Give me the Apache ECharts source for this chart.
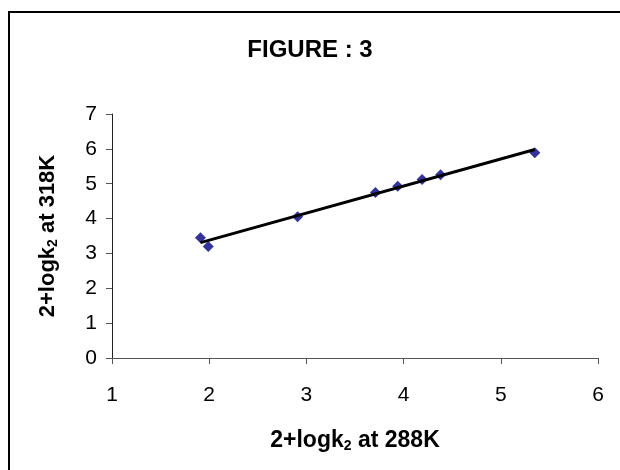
<!DOCTYPE html>
<html>
<head>
<meta charset="utf-8">
<script src="https://cdn.jsdelivr.net/npm/echarts@6/dist/echarts.min.js"></script>
<style>
html,body{margin:0;padding:0;background:#fff;}
#c{width:620px;height:470px;}
</style>
</head>
<body>
<div id="c"></div>
<script>
const titleText = 'FIGURE : 3';
const xName = '2+logk{sub|2} at 288K';
const yName = '2+logk{sub|2} at 318K';
const xValues = [1.91, 1.99, 2.91, 3.71, 3.94, 4.19, 4.38, 5.35];
const yValues = [3.45, 3.20, 4.05, 4.75, 4.93, 5.12, 5.26, 5.89];
const trendX = [1.91, 5.35];
const trendY = [3.31, 5.98];

const points = xValues.map((x, i) => [x, yValues[i]]);
const trend = trendX.map((x, i) => [x, trendY[i]]);

const chart = echarts.init(document.getElementById('c'), null, {renderer: 'canvas'});
const font = 'Liberation Sans, Arial, sans-serif';
function nameStyle(size) {
  return {
    fontFamily: font, fontWeight: 'bold', fontSize: size, color: '#000',
    rich: { sub: { fontFamily: font, fontWeight: 'bold', fontSize: Math.round(size * 0.62), verticalAlign: 'bottom', padding: [Math.round(size * 0.45), 0, 0, 0], color: '#000' } }
  };
}
chart.setOption({
  backgroundColor: '#fff',
  animation: false,
  title: {
    text: titleText, left: 'center', top: 33,
    textStyle: { fontFamily: font, fontWeight: 'bold', fontSize: 24, color: '#000' }
  },
  graphic: [{
    type: 'rect', shape: { x: 9, y: 12, width: 700, height: 600 },
    style: { fill: 'none', stroke: '#000', lineWidth: 2 }, silent: true
  }],
  grid: { left: 112, right: 22, top: 114, bottom: 112 },
  xAxis: {
    type: 'value', min: 1, max: 6, interval: 1,
    name: xName, nameLocation: 'middle', nameGap: 71, nameTextStyle: nameStyle(23),
    axisLine: { show: true, onZero: false, lineStyle: { color: '#555', width: 1 } },
    axisTick: { show: true, inside: false, length: 6, lineStyle: { color: '#555' } },
    axisLabel: { fontFamily: font, fontSize: 21, color: '#000', margin: 27 },
    splitLine: { show: false }
  },
  yAxis: {
    type: 'value', min: 0, max: 7, interval: 1,
    name: yName, nameLocation: 'middle', nameRotate: 90, nameGap: 52, nameTextStyle: nameStyle(22),
    axisLine: { show: true, onZero: false, lineStyle: { color: '#222', width: 1 } },
    axisTick: { show: true, inside: false, length: 6, lineStyle: { color: '#555' } },
    axisLabel: { fontFamily: font, fontSize: 21, color: '#000', margin: 15 },
    splitLine: { show: false }
  },
  series: [
    {
      type: 'scatter', data: points, symbol: 'diamond', symbolSize: 11,
      itemStyle: { color: '#000080' }, z: 2
    },
    {
      type: 'line', data: trend, showSymbol: false, symbol: 'none',
      lineStyle: { color: '#000', width: 3 }, z: 3, silent: true
    }
  ]
});
</script>
</body>
</html>
